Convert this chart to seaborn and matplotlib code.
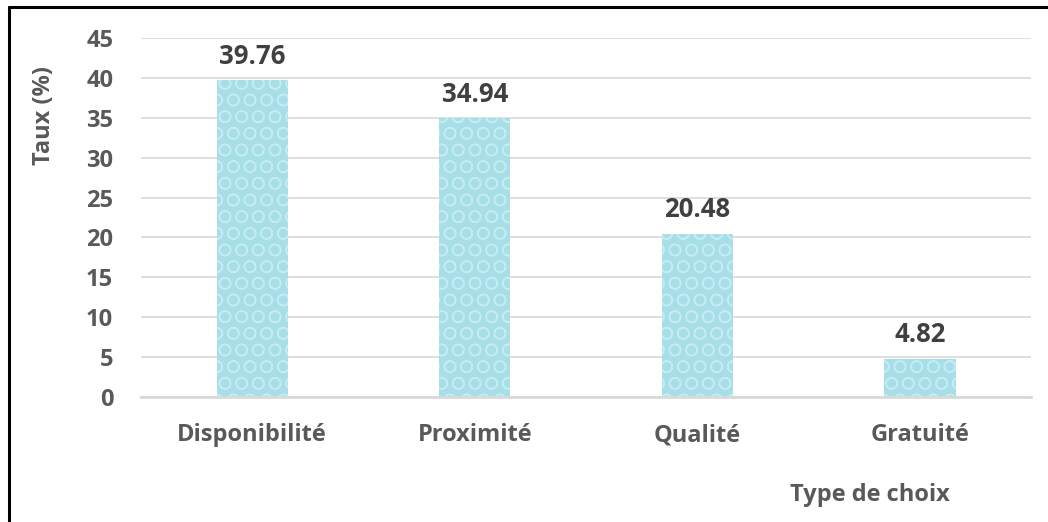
import matplotlib
matplotlib.use("Agg")
import matplotlib.pyplot as plt
import matplotlib.lines as mlines
import seaborn as sns
import pandas as pd

categories = ["Disponibilité", "Proximité", "Qualité", "Gratuité"]
taux = [39.76, 34.94, 20.48, 4.82]
value_labels = ["39.76", "34.94", "20.48", "4.82"]
yticks = [0, 5, 10, 15, 20, 25, 30, 35, 40, 45]

sns.set_style("white")
plt.rcParams["font.family"] = ["Open Sans", "DejaVu Sans"]
plt.rcParams["hatch.linewidth"] = 1.0

df = pd.DataFrame({"Type": categories, "Taux": taux})

fig = plt.figure(figsize=(10.48, 5.22), dpi=100)
ax = fig.add_axes([0.1345, 0.2395, 0.8495, 0.6875])

sns.barplot(data=df, x="Type", y="Taux", ax=ax, color="#A8DEE8",
            width=0.32, saturation=1, zorder=2)
for p in ax.patches:
    p.set_edgecolor("#C4ECF2")
    p.set_hatch("O")
    p.set_linewidth(0)

ax.set_ylim(0, 45)
ax.set_yticks(yticks)
ax.set_xlim(-0.5, 3.5)
ax.grid(axis="y", color="#D9D9D9", linewidth=1.2, zorder=0)
for s in ["top", "right", "left"]:
    ax.spines[s].set_visible(False)
ax.spines["bottom"].set_color("#D9D9D9")
ax.spines["bottom"].set_linewidth(2)
ax.tick_params(axis="y", length=0, labelsize=17, labelcolor="#595959", pad=20)
ax.tick_params(axis="x", length=0, labelsize=17, labelcolor="#595959", pad=19)
for lab in ax.get_xticklabels() + ax.get_yticklabels():
    lab.set_fontweight("bold")
ax.set_xlabel("")
ax.set_ylabel("")

for i, (v, t) in enumerate(zip(taux, value_labels)):
    ax.text(i, v + 1.3, t, ha="center", va="bottom", fontsize=18.5,
            fontweight="bold", color="#404040")

fig.text(0.83, 0.052, "Type de choix", ha="center", va="center",
         fontsize=17, fontweight="bold", color="#595959")
fig.text(0.042, 0.778, "Taux (%)", ha="center", va="center", rotation=90,
         fontsize=17, fontweight="bold", color="#595959")

# frame of the chart area (only top and left edges visible in the crop)
fig.add_artist(mlines.Line2D([0.0087, 1.0], [0.987, 0.987],
                             transform=fig.transFigure, color="black", linewidth=2.2))
fig.add_artist(mlines.Line2D([0.0087, 0.0087], [0.0, 0.987],
                             transform=fig.transFigure, color="black", linewidth=2.2))

fig.savefig("out.png", dpi=100)
